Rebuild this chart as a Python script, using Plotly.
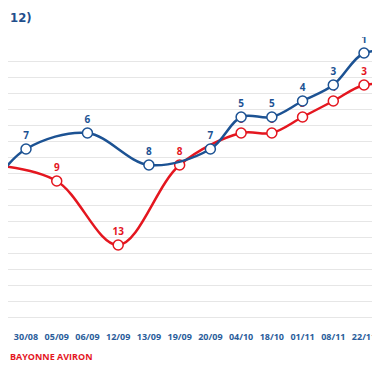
import plotly.graph_objects as go

dates = ["23/08", "30/08", "05/09", "06/09", "12/09", "13/09", "19/09",
         "20/09", "04/10", "18/10", "01/11", "08/11", "22/11", "29/11"]
blue_rank = [9, 7, None, 6, None, 8, None, 7, 5, 5, 4, 3, 1, 1]
red_rank = [8, None, 9, None, 13, None, 8, None, 6, 6, 5, 4, 3, 3]
grid_vals = [r + 0.5 for r in range(1, 18)]
title_text = "12)"
legend_text = "BAYONNE AVIRON"

BLUE = "#1c5293"
RED = "#e4161f"
BLUE_TXT = "#2a5d9b"

x_range = [0.414, 12.52]

fig = go.Figure()


def add_series(vals, color):
    idx = [i for i, v in enumerate(vals) if v is not None]
    xs = [dates[i] for i in idx]
    ys = [vals[i] for i in idx]
    # labels only for points inside the visible window
    labels = [str(vals[i]) if x_range[0] <= i <= x_range[1] else "" for i in idx]
    fig.add_trace(go.Scatter(
        x=xs, y=ys, mode="lines+markers+text",
        line=dict(color=color, width=2.5, shape="spline", smoothing=1.0),
        marker=dict(size=10, color="white", line=dict(color=color, width=1.5)),
        text=labels, textposition="top center",
        textfont=dict(family="Open Sans", size=10, color=color, weight="bold"),
        showlegend=False, hoverinfo="skip",
    ))


add_series(red_rank, RED)
add_series(blue_rank, BLUE)

fig.update_layout(
    width=372, height=354,
    margin=dict(l=0, r=0, t=29, b=37),
    paper_bgcolor="white", plot_bgcolor="white",
    xaxis=dict(type="category", categoryorder="array", categoryarray=dates,
               range=x_range, showgrid=False, zeroline=False, showline=False,
               ticks="outside", ticklen=3, tickcolor="rgba(0,0,0,0)",
               tickfont=dict(family="Open Sans", size=9, color=BLUE_TXT, weight="bold")),
    yaxis=dict(range=[18, 0], tickvals=grid_vals, showticklabels=False,
               showgrid=True, gridcolor="#e6e6e6", gridwidth=1,
               zeroline=False, showline=False, ticks=""),
)

fig.add_annotation(xref="paper", yref="paper", x=0, y=1.1,
                   text=title_text, showarrow=False,
                   xanchor="left", yanchor="top",
                   font=dict(family="Liberation Sans Narrow, DejaVu Sans Condensed", size=13,
                             color="#1f4f8c", weight="bold"))

fig.add_annotation(xref="paper", yref="paper", x=0, y=-0.111,
                   text=legend_text, showarrow=False,
                   xanchor="left", yanchor="middle",
                   font=dict(family="Open Sans", size=9, color=RED, weight="bold"))

fig.write_html("out.html")
